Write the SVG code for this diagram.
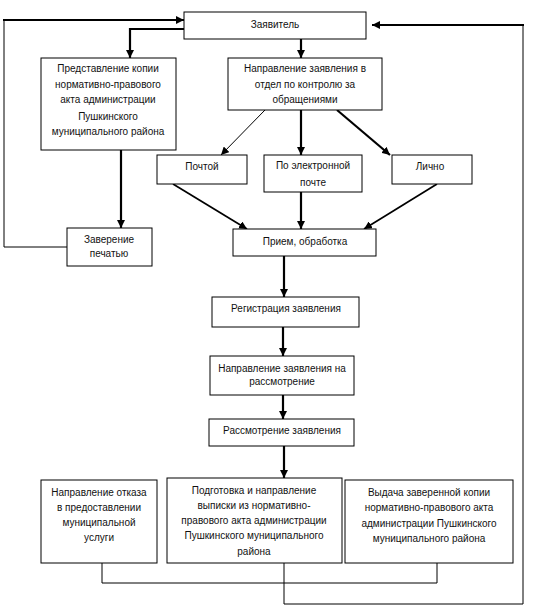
<svg xmlns="http://www.w3.org/2000/svg" width="547" height="610" viewBox="0 0 547 610">
<defs>
<marker id="ah" markerUnits="userSpaceOnUse" markerWidth="9" markerHeight="8" refX="8" refY="4" orient="auto">
<path d="M0,0 L8,4 L0,8 z" fill="#000"/>
</marker>
</defs>
<style>
.box{fill:#fff;stroke:#000;stroke-width:1}
.t{font-family:"Liberation Sans",Arial,sans-serif;font-size:10px;fill:#111;text-anchor:middle}
.c{fill:none;stroke:#000}
.thick{stroke-width:2.2}
.med{stroke-width:1.7}
.thin{stroke-width:1}
.arr{marker-end:url(#ah)}
</style>
<rect width="547" height="610" fill="#fff"/>
<g id="connectors">
<polyline class="c thick arr" points="184,29 130,29 130,58"/>
<line class="c thick arr" x1="301" y1="39" x2="301" y2="58"/>
<line class="c thin arr" x1="265" y1="110" x2="221" y2="155"/>
<line class="c thick arr" x1="301" y1="110" x2="301" y2="155"/>
<line class="c thick arr" x1="337" y1="110" x2="390" y2="155"/>
<line class="c med arr" x1="173" y1="184" x2="247" y2="229"/>
<line class="c thick arr" x1="301" y1="192" x2="301" y2="229"/>
<line class="c med arr" x1="437" y1="184" x2="364" y2="229"/>
<line class="c thick arr" x1="121" y1="150" x2="121" y2="228"/>
<polyline class="c thin" points="67,247 4,247 4,20"/>
<line class="c thick arr" x1="3" y1="20" x2="184" y2="20"/>
<line class="c thick arr" x1="284" y1="256" x2="284" y2="297"/>
<line class="c thick arr" x1="283" y1="327" x2="283" y2="356"/>
<line class="c thick arr" x1="283" y1="395" x2="283" y2="419"/>
<line class="c thick arr" x1="284" y1="446" x2="284" y2="478"/>
<polyline class="c thin" points="102,563 102,583 437,583 437,563"/>
<polyline class="c thin" points="284,563 284,604 523,604 523,25"/>
<line class="c thick arr" x1="524" y1="25" x2="372" y2="25"/>
</g>
<g id="n-zayavitel">
<rect class="box" x="184" y="12" width="182" height="27"/>
<text class="t" x="275" y="28">Заявитель</text>
</g>
<g id="n-predstavlenie">
<rect class="box" x="41" y="58" width="135" height="92"/>
<text class="t" x="108" y="72">Представление копии</text>
<text class="t" x="108" y="88">нормативно-правового</text>
<text class="t" x="108" y="103">акта администрации</text>
<text class="t" x="108" y="120">Пушкинского</text>
<text class="t" x="108" y="135">муниципального района</text>
</g>
<g id="n-napravlenie">
<rect class="box" x="228" y="58" width="154" height="52"/>
<text class="t" x="305" y="72">Направление заявления в</text>
<text class="t" x="305" y="88">отдел по контролю за</text>
<text class="t" x="305" y="103">обращениями</text>
</g>
<g id="n-pochtoy">
<rect class="box" x="157" y="155" width="90" height="29"/>
<text class="t" x="202" y="170">Почтой</text>
</g>
<g id="n-email">
<rect class="box" x="264" y="155" width="98" height="37"/>
<text class="t" x="313" y="169">По электронной</text>
<text class="t" x="313" y="186">почте</text>
</g>
<g id="n-lichno">
<rect class="box" x="392" y="155" width="80" height="29"/>
<text class="t" x="430" y="170">Лично</text>
</g>
<g id="n-zaverenie">
<rect class="box" x="67" y="228" width="85" height="38"/>
<text class="t" x="109" y="243">Заверение</text>
<text class="t" x="109" y="257">печатью</text>
</g>
<g id="n-priem">
<rect class="box" x="233" y="229" width="143" height="27"/>
<text class="t" x="305" y="245">Прием, обработка</text>
</g>
<g id="n-registraciya">
<rect class="box" x="212" y="297" width="147" height="30"/>
<text class="t" x="286" y="312">Регистрация заявления</text>
</g>
<g id="n-napr-rassm">
<rect class="box" x="210" y="356" width="144" height="39"/>
<text class="t" x="282" y="372">Направление заявления на</text>
<text class="t" x="282" y="385">рассмотрение</text>
</g>
<g id="n-rassmotrenie">
<rect class="box" x="209" y="419" width="145" height="27"/>
<text class="t" x="282" y="434">Рассмотрение заявления</text>
</g>
<g id="n-otkaz">
<rect class="box" x="41" y="480" width="116" height="83"/>
<text class="t" x="99" y="496">Направление отказа</text>
<text class="t" x="99" y="511">в предоставлении</text>
<text class="t" x="99" y="526">муниципальной</text>
<text class="t" x="99" y="541">услуги</text>
</g>
<g id="n-podgotovka">
<rect class="box" x="167" y="478" width="175" height="85"/>
<text class="t" x="254" y="494">Подготовка и направление</text>
<text class="t" x="254" y="509">выписки из нормативно-</text>
<text class="t" x="254" y="524">правового акта администрации</text>
<text class="t" x="254" y="539">Пушкинского муниципального</text>
<text class="t" x="254" y="555">района</text>
</g>
<g id="n-vydacha">
<rect class="box" x="345" y="480" width="168" height="83"/>
<text class="t" x="429" y="496">Выдача заверенной копии</text>
<text class="t" x="429" y="511">нормативно-правового акта</text>
<text class="t" x="429" y="527">администрации Пушкинского</text>
<text class="t" x="429" y="542">муниципального района</text>
</g>
</svg>
